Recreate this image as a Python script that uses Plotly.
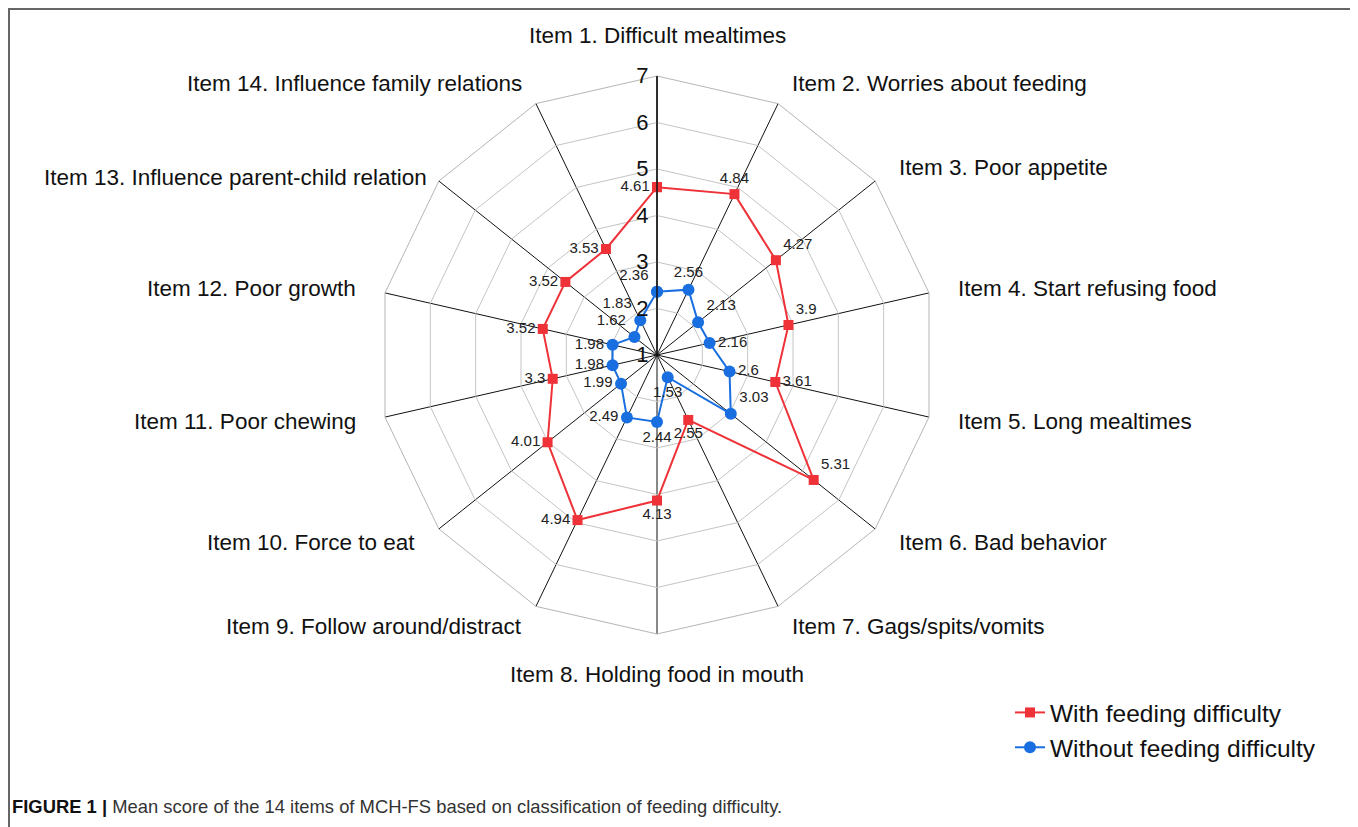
import math
import plotly.graph_objects as go

items = [
    "Item 1. Difficult mealtimes",
    "Item 2. Worries about feeding",
    "Item 3. Poor appetite",
    "Item 4. Start refusing food",
    "Item 5. Long mealtimes",
    "Item 6. Bad behavior",
    "Item 7. Gags/spits/vomits",
    "Item 8. Holding food in mouth",
    "Item 9. Follow around/distract",
    "Item 10. Force to eat",
    "Item 11. Poor chewing",
    "Item 12. Poor growth",
    "Item 13. Influence parent-child relation",
    "Item 14. Influence family relations",
]
with_fd = [4.61, 4.84, 4.27, 3.9, 3.61, 5.31, 2.55, 4.13, 4.94, 4.01, 3.3, 3.52, 3.52, 3.53]
without_fd = [2.36, 2.56, 2.13, 2.16, 2.6, 3.03, 1.53, 2.44, 2.49, 1.99, 1.98, 1.98, 1.62, 1.83]
radial_ticks = [1, 2, 3, 4, 5, 6, 7]

red_pos = ["middle left", "top center", "top right", "top right", "middle right", "top right",
           "bottom center", "bottom center", "middle left", "middle left", "middle left",
           "middle left", "middle left", "middle left"]
blue_pos = ["top left", "top center", "top right", "middle right", "middle right", "top right",
            "bottom center", "bottom center", "middle left", "middle left", "middle left",
            "middle left", "top left", "top left"]

def close(lst):
    return list(lst) + [lst[0]]

def fmt(v):
    return ("%.2f" % v).rstrip("0").rstrip(".")

RED = "#EE3238"
BLUE = "#1A6FE0"
FONT = "Arial, Liberation Sans, sans-serif"

fig = go.Figure()
fig.add_trace(go.Scatterpolar(
    r=close(with_fd), theta=close(items),
    mode="lines+markers+text",
    text=[fmt(v) for v in with_fd] + [""],
    textposition=close(red_pos),
    textfont=dict(size=15, color="#222222", family=FONT),
    line=dict(color=RED, width=2),
    marker=dict(symbol="square", size=10, color=RED),
    name="With feeding difficulty",
    cliponaxis=False,
))
fig.add_trace(go.Scatterpolar(
    r=close(without_fd), theta=close(items),
    mode="lines+markers+text",
    text=[fmt(v) for v in without_fd] + [""],
    textposition=close(blue_pos),
    textfont=dict(size=15, color="#222222", family=FONT),
    line=dict(color=BLUE, width=2),
    marker=dict(symbol="circle", size=12, color=BLUE),
    name="Without feeding difficulty",
    cliponaxis=False,
))

# page body has an 8px margin; figure sized/positioned accordingly
W, H = 1350, 819
cx, cy, R = 649, 347, 279

# category labels around the web, placed along each spoke direction
label_dist = {12: 291}   # long label pulled in to stay inside the chart area
label_annotations = []
n = len(items)
for k, name in enumerate(items):
    th = math.radians(k * 360.0 / n)
    s, c = math.sin(th), math.cos(th)
    if abs(s) < 1e-6:
        d = 305
        x = cx
        y = cy - d * c
        xa, ya = "center", ("bottom" if c > 0 else "top")
    else:
        d = label_dist.get(k, 307)
        x = cx + d * s
        y = cy - (d - 6) * c
        xa, ya = ("left" if s > 0 else "right"), "middle"
    label_annotations.append(dict(
        xref="paper", yref="paper", x=x / W, y=1 - y / H, xanchor=xa, yanchor=ya,
        showarrow=False, text=name, font=dict(size=22.5, family=FONT, color="#111111")))

caption = dict(
    xref="paper", yref="paper", x=2 / W, y=1 - 798 / H, xanchor="left", yanchor="middle",
    showarrow=False,
    text="<b>FIGURE 1 |</b> <span style='color:#333'>Mean score of the 14 items of MCH-FS based on classification of feeding difficulty.</span>",
    font=dict(size=18.4, family=FONT, color="#111111"))

fig.update_layout(
    width=W, height=H,
    margin=dict(l=0, r=0, t=0, b=0),
    paper_bgcolor="white",
    font=dict(family=FONT, color="#111111"),
    polar=dict(
        domain=dict(x=[(cx - R) / W, (cx + R) / W], y=[1 - (cy + R) / H, 1 - (cy - R) / H]),
        bgcolor="white",
        gridshape="linear",
        angularaxis=dict(
            type="category", categoryarray=items,
            rotation=90, direction="clockwise",
            showline=True, linecolor="#b5b5b5", linewidth=1,
            showgrid=True, gridcolor="#111111", gridwidth=1.2,
            ticks="", showticklabels=False,
        ),
        radialaxis=dict(
            range=[1, 7], tickvals=radial_ticks, ticktext=[str(t) for t in radial_ticks],
            angle=90, tickangle=90, side="counterclockwise",
            showline=True, linecolor="#111111", linewidth=1.5,
            showgrid=True, gridcolor="#c4c4c4", gridwidth=1,
            ticks="", tickfont=dict(size=22, color="#111111", family=FONT),
        ),
    ),
    showlegend=True,
    legend=dict(
        x=1002 / W, y=1 - 682 / H, xanchor="left", yanchor="top",
        font=dict(size=24.5, color="#111111", family=FONT),
        bgcolor="rgba(0,0,0,0)", tracegroupgap=0,
    ),
    shapes=[
        dict(type="line", xref="paper", yref="paper", x0=1 / W, x1=1 / W, y0=0, y1=1 - 1 / H,
             line=dict(color="#666666", width=2)),
        dict(type="line", xref="paper", yref="paper", x0=0, x1=1345 / W, y0=1 - 1 / H, y1=1 - 1 / H,
             line=dict(color="#666666", width=2)),
        dict(type="line", xref="paper", yref="paper", x0=1345 / W, x1=1345 / W, y0=0, y1=1 - 1 / H,
             line=dict(color="#666666", width=2)),
    ],
    annotations=label_annotations + [caption],
)

fig.write_html("out.html")
